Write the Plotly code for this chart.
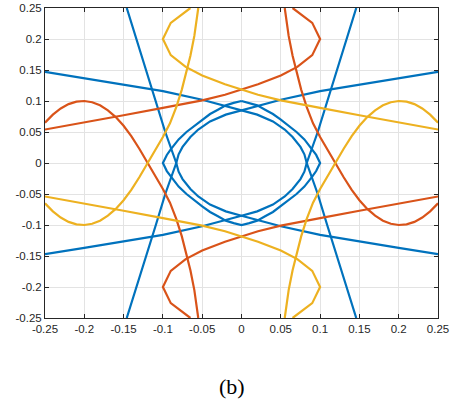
import plotly.graph_objects as go

# ---- tick labels ----
tick_vals = [-0.25, -0.2, -0.15, -0.1, -0.05, 0, 0.05, 0.1, 0.15, 0.2, 0.25]
tick_text = ["-0.25", "-0.2", "-0.15", "-0.1", "-0.05", "0", "0.05", "0.1", "0.15", "0.2", "0.25"]

# ---- blue curves ----
blue_l1_x = [-0.25, -0.2, -0.15, -0.1, -0.05, -0.02, 0, 0.02, 0.04, 0.055, 0.065, 0.075, 0.08, 0.083,
             0.08, 0.075, 0.065, 0.055, 0.04, 0.02, 0, -0.02, -0.05, -0.1, -0.15, -0.2, -0.25]
blue_l1_y = [0.147, 0.137, 0.127, 0.116, 0.102, 0.092, 0.085, 0.078, 0.067, 0.054, 0.042, 0.026, 0.014, 0,
             -0.014, -0.026, -0.042, -0.054, -0.067, -0.078, -0.085, -0.092, -0.102, -0.116, -0.127, -0.137, -0.147]
blue_l2_x = [0.25, 0.2, 0.15, 0.1, 0.05, 0.02, 0, -0.02, -0.04, -0.055, -0.065, -0.075, -0.08, -0.083,
             -0.08, -0.075, -0.065, -0.055, -0.04, -0.02, 0, 0.02, 0.05, 0.1, 0.15, 0.2, 0.25]
blue_l2_y = [0.147, 0.137, 0.127, 0.116, 0.102, 0.092, 0.085, 0.078, 0.067, 0.054, 0.042, 0.026, 0.014, 0,
             -0.014, -0.026, -0.042, -0.054, -0.067, -0.078, -0.085, -0.092, -0.102, -0.116, -0.127, -0.137, -0.147]
blue_qr_x = [0.146, 0.134, 0.121, 0.109, 0.097, 0.09, 0.083, 0.09, 0.097, 0.109, 0.121, 0.134, 0.146]
blue_qr_y = [0.25, 0.2, 0.15, 0.1, 0.05, 0.025, 0, -0.025, -0.05, -0.1, -0.15, -0.2, -0.25]
blue_ql_x = [-0.146, -0.134, -0.121, -0.109, -0.097, -0.09, -0.083, -0.09, -0.097, -0.109, -0.121, -0.134, -0.146]
blue_ql_y = [0.25, 0.2, 0.15, 0.1, 0.05, 0.025, 0, -0.025, -0.05, -0.1, -0.15, -0.2, -0.25]
blue_s_x = [0, 0.01, 0.02, 0.03, 0.04, 0.05, 0.06, 0.07, 0.08, 0.09, 0.095, 0.1,
            0.095, 0.09, 0.08, 0.07, 0.06, 0.05, 0.04, 0.03, 0.02, 0.01, 0,
            -0.01, -0.02, -0.03, -0.04, -0.05, -0.06, -0.07, -0.08, -0.09, -0.095, -0.1,
            -0.095, -0.09, -0.08, -0.07, -0.06, -0.05, -0.04, -0.03, -0.02, -0.01, 0]
blue_s_y = [0.1, 0.097, 0.093, 0.086, 0.079, 0.07, 0.06, 0.05, 0.038, 0.022, 0.013, 0,
            -0.013, -0.022, -0.038, -0.05, -0.06, -0.07, -0.079, -0.086, -0.093, -0.097, -0.1,
            -0.097, -0.093, -0.086, -0.079, -0.07, -0.06, -0.05, -0.038, -0.022, -0.013, 0,
            0.013, 0.022, 0.038, 0.05, 0.06, 0.07, 0.079, 0.086, 0.093, 0.097, 0.1]

# ---- yellow curves ----
yel_a_x = [-0.25, -0.24, -0.23, -0.22, -0.21, -0.2, -0.19, -0.18, -0.17, -0.16, -0.15, -0.14, -0.13,
           -0.119, -0.11, -0.1, -0.091, -0.083, -0.076, -0.07, -0.065, -0.06, -0.055]
yel_a_y = [-0.065, -0.078, -0.088, -0.095, -0.099, -0.1, -0.098, -0.093, -0.085, -0.074, -0.06, -0.043, -0.023,
           0, 0.02, 0.042, 0.064, 0.09, 0.118, 0.146, 0.173, 0.205, 0.25]
yel_b_x = [-0.25, -0.2, -0.15, -0.1, -0.05, -0.021, 0.021, 0.05, 0.071, 0.09, 0.1, 0.09, 0.065]
yel_b_y = [-0.054, -0.065, -0.077, -0.089, -0.101, -0.11, -0.127, -0.141, -0.155, -0.174, -0.2, -0.226, -0.25]
yel_c_x = [0.25, 0.24, 0.23, 0.22, 0.21, 0.2, 0.19, 0.18, 0.17, 0.16, 0.15, 0.14, 0.13,
           0.119, 0.11, 0.1, 0.091, 0.083, 0.076, 0.07, 0.065, 0.06, 0.055]
yel_c_y = [0.065, 0.078, 0.088, 0.095, 0.099, 0.1, 0.098, 0.093, 0.085, 0.074, 0.06, 0.043, 0.023,
           0, -0.02, -0.042, -0.064, -0.09, -0.118, -0.146, -0.173, -0.205, -0.25]
yel_d_x = [0.25, 0.2, 0.15, 0.1, 0.05, 0.021, -0.021, -0.05, -0.071, -0.09, -0.1, -0.09, -0.065]
yel_d_y = [0.054, 0.065, 0.077, 0.089, 0.101, 0.11, 0.127, 0.141, 0.155, 0.174, 0.2, 0.226, 0.25]

# ---- orange curves ----
org_a_x = [0.25, 0.24, 0.23, 0.22, 0.21, 0.2, 0.19, 0.18, 0.17, 0.16, 0.15, 0.14, 0.13,
           0.119, 0.11, 0.1, 0.091, 0.083, 0.076, 0.07, 0.065, 0.06, 0.055]
org_a_y = [-0.065, -0.078, -0.088, -0.095, -0.099, -0.1, -0.098, -0.093, -0.085, -0.074, -0.06, -0.043, -0.023,
           0, 0.02, 0.042, 0.064, 0.09, 0.118, 0.146, 0.173, 0.205, 0.25]
org_b_x = [0.25, 0.2, 0.15, 0.1, 0.05, 0.021, -0.021, -0.05, -0.071, -0.09, -0.1, -0.09, -0.065]
org_b_y = [-0.054, -0.065, -0.077, -0.089, -0.101, -0.11, -0.127, -0.141, -0.155, -0.174, -0.2, -0.226, -0.25]
org_c_x = [-0.25, -0.24, -0.23, -0.22, -0.21, -0.2, -0.19, -0.18, -0.17, -0.16, -0.15, -0.14, -0.13,
           -0.119, -0.11, -0.1, -0.091, -0.083, -0.076, -0.07, -0.065, -0.06, -0.055]
org_c_y = [0.065, 0.078, 0.088, 0.095, 0.099, 0.1, 0.098, 0.093, 0.085, 0.074, 0.06, 0.043, 0.023,
           0, -0.02, -0.042, -0.064, -0.09, -0.118, -0.146, -0.173, -0.205, -0.25]
org_d_x = [-0.25, -0.2, -0.15, -0.1, -0.05, -0.021, 0.021, 0.05, 0.071, 0.09, 0.1, 0.09, 0.065]
org_d_y = [0.054, 0.065, 0.077, 0.089, 0.101, 0.11, 0.127, 0.141, 0.155, 0.174, 0.2, 0.226, 0.25]

BLUE = "#0072BD"
ORANGE = "#D95319"
YELLOW = "#EDB120"

curves = [
    (blue_l1_x, blue_l1_y, BLUE), (blue_l2_x, blue_l2_y, BLUE),
    (blue_qr_x, blue_qr_y, BLUE), (blue_ql_x, blue_ql_y, BLUE),
    (blue_s_x, blue_s_y, BLUE),
    (org_a_x, org_a_y, ORANGE), (org_b_x, org_b_y, ORANGE),
    (org_c_x, org_c_y, ORANGE), (org_d_x, org_d_y, ORANGE),
    (yel_a_x, yel_a_y, YELLOW), (yel_b_x, yel_b_y, YELLOW),
    (yel_c_x, yel_c_y, YELLOW), (yel_d_x, yel_d_y, YELLOW),
]

fig = go.Figure()
for cx, cy, col in curves:
    fig.add_trace(go.Scatter(x=cx, y=cy, mode="lines", showlegend=False,
                             line=dict(color=col, width=2.2, shape="linear"), hoverinfo="skip"))

axis_common = dict(
    range=[-0.25, 0.25], tickvals=tick_vals, ticktext=tick_text,
    showgrid=True, gridcolor="#E3E3E3", gridwidth=1,
    zeroline=False, showline=True, linecolor="#262626", linewidth=1,
    mirror="allticks", ticks="inside", ticklen=4, tickcolor="#262626",
    tickfont=dict(family="Liberation Sans, Arial, sans-serif", size=11.5, color="#262626"),
    fixedrange=True, automargin=False,
)
fig.update_xaxes(**axis_common)
fig.update_yaxes(**axis_common)

fig.add_annotation(text="(b)", xref="paper", yref="paper", x=0.475, y=-0.22,
                   xanchor="center", yanchor="middle", showarrow=False,
                   font=dict(family="Liberation Serif, Times New Roman, serif", size=22, color="#000000"))

fig.update_layout(
    width=451, height=403,
    margin=dict(l=45, r=13, t=8, b=85, autoexpand=False),
    paper_bgcolor="white", plot_bgcolor="white",
)

fig.write_html("out.html")
